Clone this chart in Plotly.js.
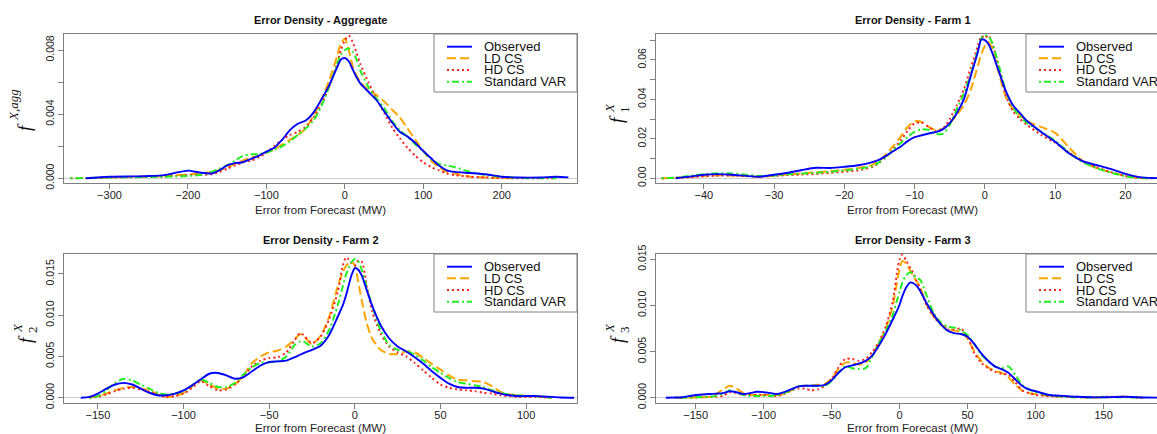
<!DOCTYPE html>
<html><head><meta charset="utf-8">
<script src="https://cdn.plot.ly/plotly-3.0.1.min.js"></script>
<style>html,body{margin:0;padding:0;overflow:hidden;background:#fff}#chart{width:1180px;height:434px}</style>
</head><body><div id="chart"></div><script>
// ---------------- DATA ----------------
const seriesNames = ['Observed', 'LD CS', 'HD CS', 'Standard VAR'];
const panelTitles = ['Error Density - Aggregate', 'Error Density - Farm 1', 'Error Density - Farm 2', 'Error Density - Farm 3'];
const xAxisTitle = 'Error from Forecast (MW)';

// Aggregate
const aggX = [-350,-330,-300,-270,-250,-230,-215,-200,-185,-170,-160,-150,-140,-130,-120,-110,-100,-90,-80,-70,-60,-50,-40,-30,-20,-10,-5,0,5,10,15,20,30,40,50,60,70,80,90,100,110,120,130,140,160,180,200,220,250,270,285];
const aggObserved = [null,0,0.0001,0.00012,0.00014,0.0002,0.00035,0.00048,0.00036,0.0003,0.0005,0.0008,0.00095,0.001,0.0012,0.0014,0.00167,0.0019,0.0024,0.003,0.0034,0.0036,0.0041,0.0049,0.0058,0.0069,0.0074,0.0075,0.0073,0.0068,0.0063,0.0059,0.0054,0.0049,0.0042,0.0035,0.0029,0.0026,0.0022,0.0017,0.00125,0.0008,0.0005,0.0004,0.00033,0.00025,0.0001,0.00005,0.00005,0.0001,0.00006];
const aggLD = [null,0,0.00005,0.0001,0.0001,0.00015,0.0002,0.00022,0.0003,0.0004,0.0005,0.0007,0.0009,0.0011,0.0013,0.0014,0.0016,0.0018,0.0021,0.0024,0.0027,0.0031,0.0039,0.0049,0.0061,0.0076,0.0084,0.0087,0.0080,0.0070,0.0064,0.0060,0.0055,0.0052,0.0048,0.0043,0.0038,0.0031,0.0024,0.0017,0.0011,0.0007,0.0004,0.0003,0.0001,0.00005,0.00002,0,null,null,null];
const aggHD = [0,0.00002,0.00005,0.00008,0.0001,0.00012,0.00015,0.0002,0.00022,0.00025,0.0004,0.0006,0.0008,0.001,0.0011,0.0013,0.0016,0.002,0.0024,0.0027,0.0029,0.0032,0.0038,0.0046,0.0057,0.0071,0.008,0.0086,0.0089,0.0085,0.0078,0.0071,0.006,0.005,0.0041,0.0032,0.0025,0.0019,0.0014,0.001,0.0007,0.0005,0.0003,0.0002,0.0001,0.00005,0.00002,0,0,0,null];
const aggVAR = [0,0.00002,0.00005,0.00007,0.00008,0.0001,0.00012,0.00015,0.0002,0.0004,0.0006,0.0008,0.0011,0.0014,0.0015,0.0015,0.0016,0.0018,0.002,0.0023,0.0027,0.0031,0.0036,0.0045,0.0057,0.0071,0.0077,0.008,0.0081,0.0079,0.0074,0.0067,0.0057,0.005,0.0044,0.0036,0.003,0.0026,0.0021,0.0017,0.0012,0.0009,0.0008,0.0007,0.0004,0.0002,0.0001,0.00003,0,0,null];

// Farm 1
const farm1X = [-46,-44,-42,-40,-38,-36,-34,-32,-30,-28,-26,-24,-22,-20,-18,-16,-15,-14,-13,-12,-11,-10,-9,-8,-7,-6,-5,-4,-3,-2,-1,-0.5,0,0.5,1,2,3,4,5,6,8,10,12,14,16,18,20,22,24,26];
const farm1Observed = [null,0,0.0008,0.0018,0.0021,0.0018,0.0012,0.0008,0.0018,0.0028,0.0042,0.0053,0.0052,0.0058,0.0066,0.0082,0.0095,0.0115,0.0138,0.016,0.0188,0.0208,0.0218,0.0227,0.0234,0.0248,0.028,0.033,0.04,0.052,0.064,0.0703,0.07,0.068,0.064,0.054,0.044,0.037,0.033,0.029,0.0235,0.0185,0.0125,0.0085,0.0066,0.0046,0.0022,0.0006,0.0001,0];
const farm1LD = [0,0.0002,0.0006,0.0012,0.0015,0.0014,0.0011,0.0008,0.0013,0.0019,0.0025,0.003,0.0036,0.0043,0.0052,0.0068,0.009,0.0125,0.0165,0.021,0.026,0.0288,0.0285,0.026,0.0245,0.025,0.028,0.032,0.037,0.045,0.057,0.063,0.067,0.069,0.066,0.053,0.041,0.035,0.032,0.029,0.026,0.023,0.0155,0.0085,0.005,0.003,0.0012,0.0002,0,null];
const farm1HD = [0,0.0002,0.0005,0.001,0.0013,0.0014,0.0011,0.0008,0.0012,0.0016,0.0019,0.0022,0.0028,0.0033,0.004,0.0058,0.008,0.011,0.015,0.019,0.024,0.0278,0.0282,0.026,0.024,0.025,0.03,0.037,0.045,0.056,0.067,0.072,0.071,0.0725,0.069,0.056,0.042,0.034,0.03,0.027,0.022,0.018,0.013,0.0085,0.0055,0.003,0.0012,0.0002,0,null];
const farm1VAR = [0,0.0003,0.0012,0.002,0.0026,0.0024,0.0018,0.0011,0.0014,0.002,0.0024,0.0028,0.0033,0.004,0.0048,0.0062,0.0082,0.011,0.0145,0.0178,0.021,0.0235,0.0248,0.0245,0.0225,0.0225,0.027,0.035,0.043,0.053,0.065,0.071,0.0725,0.072,0.069,0.057,0.044,0.036,0.031,0.028,0.0235,0.019,0.013,0.008,0.005,0.0028,0.001,0.0002,0,null];

// Farm 2
const farm2X = [-165,-160,-155,-150,-145,-140,-135,-130,-125,-120,-115,-110,-105,-100,-95,-90,-85,-80,-75,-70,-65,-60,-55,-50,-45,-40,-35,-32,-30,-25,-20,-15,-10,-7,-5,-2,0,2,4,7,10,15,20,25,30,35,40,45,50,55,60,65,70,75,80,85,90,95,100,105,110,115,120,128];
const farm2Observed = [null,0,0.0001,0.0005,0.0011,0.0016,0.0018,0.0016,0.0011,0.0006,0.0003,0.0003,0.0005,0.0009,0.0015,0.0022,0.0029,0.003,0.0027,0.0023,0.0025,0.0032,0.0039,0.0043,0.0044,0.0045,0.0049,0.0052,0.0054,0.0058,0.0063,0.0076,0.0098,0.0112,0.0125,0.0148,0.0157,0.0155,0.0148,0.013,0.0112,0.0088,0.0072,0.0062,0.0056,0.0049,0.0041,0.0032,0.0024,0.0017,0.0013,0.0012,0.0012,0.0011,0.0008,0.0005,0.0003,0.0002,0.0002,0.0002,0.00015,0.0001,0.00003,0];
const farm2LD = [null,null,0,0.0002,0.0005,0.0009,0.0012,0.0013,0.0011,0.0009,0.0004,0.0001,0.0002,0.0006,0.0014,0.0021,0.0016,0.0011,0.0011,0.0016,0.0027,0.0042,0.005,0.0055,0.0057,0.0062,0.0071,0.0077,0.0075,0.0065,0.0075,0.0098,0.0135,0.0152,0.016,0.0165,0.016,0.014,0.0118,0.009,0.0072,0.0058,0.0053,0.0053,0.0056,0.0055,0.0048,0.0041,0.0034,0.0027,0.0022,0.0021,0.002,0.0019,0.0014,0.0007,0.0004,0.0003,0.0002,0.0002,0.0001,0,null,null];
const farm2HD = [null,null,0,0.0001,0.0004,0.0008,0.0011,0.0012,0.001,0.0007,0.0003,0.0001,0.0002,0.0005,0.0012,0.002,0.0014,0.0009,0.001,0.0016,0.0026,0.0038,0.0045,0.0048,0.0049,0.0055,0.007,0.0078,0.0076,0.0066,0.0074,0.0095,0.0128,0.016,0.017,0.0163,0.016,0.0166,0.0165,0.0135,0.0105,0.0078,0.0062,0.0055,0.005,0.0042,0.0033,0.0024,0.0016,0.0012,0.001,0.0009,0.0008,0.0006,0.0005,0.0003,0.0002,0.0001,0.0001,0.0001,0.00005,0,null,null];
const farm2VAR = [null,null,0,0.0002,0.0009,0.0018,0.0023,0.0021,0.0016,0.0011,0.0006,0.0004,0.0005,0.0008,0.0015,0.0022,0.0018,0.0013,0.0013,0.0018,0.0028,0.0037,0.0042,0.0043,0.0044,0.005,0.0064,0.0068,0.0068,0.0062,0.0066,0.0082,0.0112,0.0135,0.015,0.0164,0.0168,0.0165,0.0155,0.0133,0.0112,0.0082,0.0064,0.0058,0.0057,0.0052,0.0045,0.0037,0.003,0.0024,0.0019,0.0017,0.0015,0.0013,0.0009,0.0006,0.0004,0.0003,0.0002,0.0002,0.0001,0,null,null];

// Farm 3
const farm3X = [-172,-165,-160,-150,-140,-135,-130,-125,-120,-115,-110,-105,-100,-95,-90,-85,-80,-75,-70,-65,-60,-55,-50,-45,-40,-35,-30,-25,-20,-15,-10,-5,-2,0,2,5,8,10,12,15,20,25,30,35,40,45,50,55,60,65,70,75,80,85,90,95,100,110,120,130,140,150,165,180,195];
const farm3Observed = [0,0.00002,0.00005,0.0003,0.0004,0.00045,0.0005,0.0007,0.0006,0.0004,0.0005,0.00065,0.0006,0.0005,0.0004,0.0006,0.0009,0.0012,0.0013,0.0013,0.0013,0.0014,0.0019,0.0027,0.0033,0.0035,0.0037,0.004,0.0046,0.0057,0.007,0.0085,0.0094,0.0101,0.011,0.012,0.0125,0.0124,0.0122,0.0116,0.0102,0.009,0.008,0.0073,0.007,0.0069,0.0066,0.0058,0.0048,0.004,0.0034,0.0031,0.0027,0.002,0.0013,0.0009,0.0007,0.0003,0.0002,0.0001,0.00005,0.00005,0.0001,0.00003,0];
const farm3LD = [null,0,0,0.00005,0.0001,0.0004,0.0009,0.0013,0.001,0.0005,0.0003,0.0003,0.0003,0.0003,0.0003,0.0004,0.0008,0.0012,0.0013,0.0013,0.0014,0.0015,0.0021,0.0031,0.0038,0.0038,0.0036,0.0038,0.0047,0.006,0.0076,0.01,0.0125,0.014,0.0148,0.0145,0.0137,0.0132,0.0127,0.012,0.01,0.0088,0.008,0.0075,0.0073,0.0071,0.0064,0.005,0.004,0.0033,0.0029,0.0027,0.0022,0.0014,0.0008,0.0005,0.0004,0.0002,0.0001,0.00005,0.00003,0.00005,0.0001,0,null];
const farm3HD = [null,0,0,0.00003,0.0001,0.0001,0.0002,0.0006,0.0005,0.0003,0.0003,0.0003,0.0003,0.0002,0.0002,0.0004,0.0008,0.001,0.001,0.0008,0.0009,0.0013,0.002,0.0033,0.0042,0.0042,0.004,0.0042,0.005,0.0061,0.0078,0.0105,0.0135,0.015,0.0155,0.0148,0.014,0.0135,0.0128,0.0118,0.01,0.0088,0.008,0.0074,0.0074,0.0075,0.0066,0.0048,0.0038,0.0032,0.0028,0.0026,0.0025,0.0017,0.0008,0.0005,0.0003,0.0002,0.0001,0.0001,0.00005,0.0001,0.0001,0,null];
const farm3VAR = [null,0,0,0.00005,0.0001,0.0002,0.0004,0.0008,0.0006,0.0003,0.0002,0.0002,0.0002,0.0002,0.0003,0.0005,0.0008,0.0012,0.0013,0.0013,0.0013,0.0013,0.0018,0.0027,0.0034,0.0032,0.0031,0.0032,0.0045,0.006,0.0073,0.009,0.0105,0.0115,0.0125,0.0133,0.0136,0.0134,0.013,0.0128,0.011,0.0092,0.0082,0.0077,0.0076,0.0073,0.0068,0.0058,0.0047,0.004,0.0034,0.0032,0.0034,0.0025,0.0014,0.0009,0.0006,0.0003,0.0001,0.00005,0.00003,0.00005,0.00005,0,null];

// Tick values / labels
const aggXTicks = [-300,-200,-100,0,100,200];
const farm1XTicks = [-40,-30,-20,-10,0,10,20];
const farm2XTicks = [-150,-100,-50,0,50,100];
const farm3XTicks = [-150,-100,-50,0,50,100,150];
const aggYTicks = [0,0.002,0.004,0.006,0.008];
const aggYLabels = ['0.000','','0.004','','0.008'];
const farm1YTicks = [0,0.01,0.02,0.03,0.04,0.05,0.06,0.07];
const farm1YLabels = ['0.00','','0.02','','0.04','','0.06',''];
const farm2YTicks = [0,0.005,0.01,0.015];
const farm2YLabels = ['0.000','0.005','0.010','0.015'];
const farm3YTicks = [0,0.005,0.01,0.015];
const farm3YLabels = ['0.000','0.005','0.010','0.015'];

// ---------------- LAYOUT / STYLE ----------------
const W = 1180, H = 434;
const FONT = 'Liberation Sans, Arial, Helvetica, sans-serif';
const SERIF = 'Liberation Serif, Times New Roman, serif';
const colors = ['#0000FF', '#FFA500', '#FF2020', '#22EE22'];
const dashes = ['solid', '9px,4px', '2px,3px', '2px,3px,7px,3px'];
const widths = [1.9, 2, 2, 2];

const panels = [
  {x: aggX, ys: [aggObserved, aggLD, aggHD, aggVAR], xt: aggXTicks, yt: aggYTicks, yl: aggYLabels,
   L: 64, R: 577, T: 34, B: 183, xr: [-358, 296], yr: [-0.000293, 0.0090], legL: 434,
   lab: {main: 'f', sup: 'X,agg', sub: null}},
  {x: farm1X, ys: [farm1Observed, farm1LD, farm1HD, farm1VAR], xt: farm1XTicks, yt: farm1YTicks, yl: farm1YLabels,
   L: 656, R: 1169, T: 34, B: 183, xr: [-46.8, 26.2], yr: [-0.0024, 0.0731], legL: 1026,
   lab: {main: 'f', sup: 'X', sub: '1'}},
  {x: farm2X, ys: [farm2Observed, farm2LD, farm2HD, farm2VAR], xt: farm2XTicks, yt: farm2YTicks, yl: farm2YLabels,
   L: 64, R: 577, T: 254, B: 403, xr: [-169.8, 129.7], yr: [-0.00064, 0.0174], legL: 434,
   lab: {main: 'f', sup: 'X', sub: '2'}},
  {x: farm3X, ys: [farm3Observed, farm3LD, farm3HD, farm3VAR], xt: farm3XTicks, yt: farm3YTicks, yl: farm3YLabels,
   L: 656, R: 1169, T: 254, B: 403, xr: [-179.2, 198.1], yr: [-0.00057, 0.01557], legL: 1026,
   lab: {main: 'f', sup: 'X', sub: '3'}}
];

const px = v => v / W;
const py = v => 1 - v / H;

const traces = [];
const layout = {
  width: W, height: H, margin: {l: 0, r: 0, t: 0, b: 0},
  paper_bgcolor: '#fff', plot_bgcolor: '#fff', showlegend: false,
  font: {family: FONT, color: '#222'},
  annotations: [], shapes: []
};

function label(x, y, text, size) {
  return {xref: 'paper', yref: 'paper', x: px(x), y: py(y), text: text, showarrow: false,
    xanchor: 'center', yanchor: 'middle', textangle: -90,
    font: {family: SERIF, size: size, color: '#111'}};
}

panels.forEach((p, i) => {
  const sfx = i === 0 ? '' : String(i + 1);
  const drawOrder = [1, 2, 3, 0];
  drawOrder.forEach(s => {
    traces.push({
      type: 'scatter', mode: 'lines', name: seriesNames[s],
      x: p.x, y: p.ys[s], xaxis: 'x' + sfx, yaxis: 'y' + sfx,
      connectgaps: false, showlegend: false, hoverinfo: 'skip',
      line: {color: colors[s], width: widths[s], dash: dashes[s], shape: 'spline', smoothing: 0.7}
    });
  });
  const common = {showline: true, mirror: true, linecolor: '#808080', linewidth: 1,
    ticks: 'outside', ticklen: 5, tickcolor: '#808080', tickwidth: 1, showgrid: false,
    fixedrange: true, tickmode: 'array', tickfont: {family: FONT, size: 11, color: '#222'}};
  layout['xaxis' + sfx] = Object.assign({}, common, {
    domain: [px(p.L), px(p.R)], anchor: 'y' + sfx, range: p.xr, tickvals: p.xt,
    zeroline: false, ticklabelstandoff: -3,
    title: {text: xAxisTitle, font: {family: FONT, size: 11.5, color: '#222'}, standoff: 5}
  });
  layout['yaxis' + sfx] = Object.assign({}, common, {
    domain: [py(p.B), py(p.T)], anchor: 'x' + sfx, range: p.yr, tickvals: p.yt, ticktext: p.yl,
    tickangle: -90, tickfont: {family: FONT, size: 10.5, color: '#222'},
    zeroline: true, zerolinecolor: '#cfcfcf', zerolinewidth: 1
  });
  // panel title
  layout.annotations.push({xref: 'paper', yref: 'paper', x: px((p.L + p.R) / 2), y: py(p.T - 14),
    text: '<b>' + panelTitles[i] + '</b>', showarrow: false, xanchor: 'center', yanchor: 'middle',
    font: {family: FONT, size: 11, color: '#111'}});
  // y label: f with superscript / subscript
  if (p.lab.sub === null) {
    layout.annotations.push(label(p.L - 40, p.T + 93, '<i>' + p.lab.main + '</i>', 19));
    layout.annotations.push(label(p.L - 51, p.T + 71, '<i>' + p.lab.sup + '</i>', 13));
  } else {
    layout.annotations.push(label(p.L - 39, p.T + 85, '<i>' + p.lab.main + '</i>', 19));
    layout.annotations.push(label(p.L - 47, p.T + 74, '<i>' + p.lab.sup + '</i>', 13));
    layout.annotations.push(label(p.L - 32, p.T + 76, p.lab.sub, 13));
  }
  // legend box (drawn manually to match compact R legend)
  const lt = p.T, lb = p.T + 58, ll = p.legL, lr = p.legL + 143;
  layout.shapes.push({type: 'rect', xref: 'paper', yref: 'paper', x0: px(ll), x1: px(lr), y0: py(lb), y1: py(lt),
    line: {color: '#808080', width: 1}, fillcolor: '#fff', layer: 'above'});
  const rows = [12.7, 24.3, 36, 47.7];
  seriesNames.forEach((nm, s) => {
    const yy = py(lt + rows[s]);
    layout.shapes.push({type: 'line', xref: 'paper', yref: 'paper', x0: px(ll + 13), x1: px(ll + 38), y0: yy, y1: yy,
      line: {color: colors[s], width: widths[s], dash: dashes[s]}, layer: 'above'});
    layout.annotations.push({xref: 'paper', yref: 'paper', x: px(ll + 48), y: yy, text: nm, showarrow: false,
      xanchor: 'left', yanchor: 'middle', font: {family: FONT, size: 13, color: '#111'}});
  });
});

Plotly.newPlot('chart', traces, layout, {staticPlot: true, displayModeBar: false});
</script></body></html>
